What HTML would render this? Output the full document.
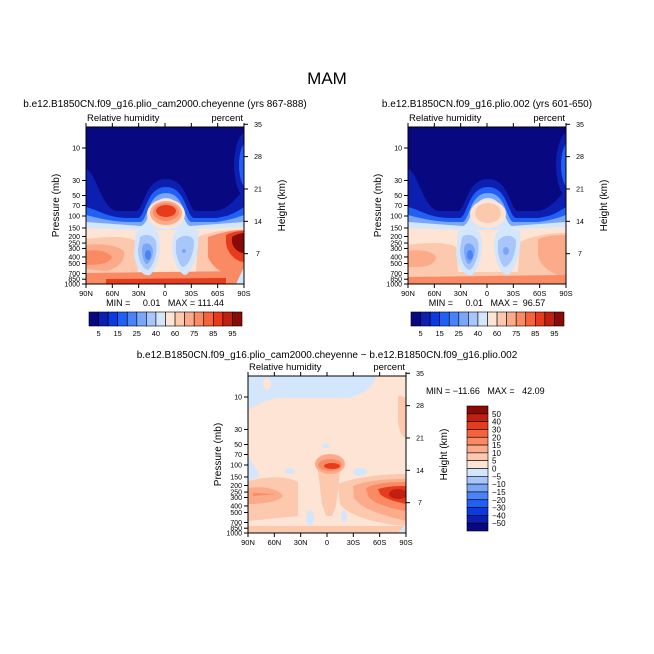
<!DOCTYPE html>
<html><head><meta charset="utf-8"><style>
body{margin:0;background:#fff;}
svg{display:block;font-family:"Liberation Sans",sans-serif;}
.pre{white-space:pre;}
</style></head><body>
<svg id="chart" width="654" height="654" viewBox="0 0 654 654">
<rect width="654" height="654" fill="#fff"/>
<text x="327" y="84" font-size="17" text-anchor="middle">MAM</text>
<text x="165" y="107" font-size="10" text-anchor="middle">b.e12.B1850CN.f09_g16.plio_cam2000.cheyenne (yrs 867-888)</text>
<text x="487" y="107" font-size="10" text-anchor="middle">b.e12.B1850CN.f09_g16.plio.002 (yrs 601-650)</text>
<text x="327" y="358" font-size="10" text-anchor="middle">b.e12.B1850CN.f09_g16.plio_cam2000.cheyenne − b.e12.B1850CN.f09_g16.plio.002</text>
<defs>
<clipPath id="pc"><rect x="0" y="0" width="158" height="157"/></clipPath>
</defs>

<!-- Panel 1 -->
<g transform="translate(86,127)">
<g clip-path="url(#pc)">
<rect width="158" height="157" fill="#080880"/>
<ellipse cx="162" cy="38" rx="14" ry="34" fill="#0c1fb0"/>
<ellipse cx="162" cy="38" rx="9" ry="24" fill="#2060f5"/>
<ellipse cx="162" cy="38" rx="4" ry="14" fill="#4a82f7"/>
<path d="M0,42 C10,45 15,80 30,84 L50,84 C58,84 58,52 80,52 C102,52 102,84 110,84 L128,84 C140,84 150,72 158,62 L158,157 L0,157Z" fill="#0c1fb0"/>
<path d="M0,80 C15,84 20,90 40,91 L52,91 C60,89 60,60 80,60 C100,60 100,89 108,91 L130,91 C145,89 150,85 158,80 L158,157 L0,157Z" fill="#2060f5"/>
<path d="M0,88 C15,92 30,95 45,95 L55,95 C62,92 62,66 80,66 C98,66 98,92 105,95 L130,95 C145,93 152,90 158,88 L158,157 L0,157Z" fill="#7aa6f8"/>
<path d="M0,95 L55,99 C64,96 64,71 80,71 C96,71 96,96 104,99 L158,95 L158,157 L0,157Z" fill="#d4e6fc"/>
<path d="M0,101 L50,103 C55,100 60,102 62,103 L98,103 C102,101 106,100 110,102 L158,100 L158,157 L0,157Z" fill="#fde4d4"/>
<path d="M0,112 C20,110 40,108 50,114 L52,145 L110,145 L112,110 C125,104 145,103 158,103 L158,157 L0,157Z" fill="#fcc8ae"/>
<path d="M0,118 C15,116 30,118 38,124 C40,135 30,142 20,144 L0,142Z" fill="#fbab8a"/>
<path d="M0,124 C10,122 22,124 26,130 C24,136 15,138 0,138Z" fill="#fa8a63"/>
<path d="M122,110 C140,104 150,103 158,103 L158,150 C145,150 128,145 122,130Z" fill="#fa8a63"/>
<path d="M140,108 C148,104 155,104 158,104 L158,135 C150,135 140,125 140,115Z" fill="#e63b1c"/>
<path d="M146,110 C152,106 158,106 158,106 L158,126 C152,126 146,120 146,114Z" fill="#8a0a05"/>
<path d="M0,146 L158,144 L158,157 L0,157Z" fill="#fa8a63"/>
<path d="M20,152 L140,151 L140,157 L20,157Z" fill="#e63b1c"/>
<path d="M150,157 L158,140 L158,157Z" fill="#d4e6fc"/>
<ellipse cx="80" cy="87" rx="19" ry="15" fill="#fde4d4"/>
<ellipse cx="80" cy="86" rx="16" ry="12" fill="#fbab8a"/>
<ellipse cx="80" cy="85" rx="13" ry="9" fill="#fa8a63"/>
<ellipse cx="80" cy="84" rx="10" ry="6" fill="#e63b1c"/>
<path d="M50,104 C56,100 66,100 72,106 C76,118 74,138 64,148 C56,150 50,140 48,128Z" fill="#d4e6fc"/>
<path d="M54,110 C60,106 67,108 70,114 C72,126 68,138 62,143 C56,142 52,132 52,122Z" fill="#a8c6fa"/>
<path d="M57,118 C62,114 66,118 67,124 C66,132 63,137 60,137 C57,134 56,126 56,122Z" fill="#7aa6f8"/>
<ellipse cx="62" cy="128" rx="3" ry="5" fill="#4a82f7"/>
<path d="M88,106 C94,100 106,100 112,104 C114,118 110,140 100,148 C92,148 86,130 86,118Z" fill="#d4e6fc"/>
<path d="M90,114 C96,106 106,108 108,114 C108,128 102,140 96,140 C91,134 89,124 90,118Z" fill="#a8c6fa"/>
<ellipse cx="98" cy="124" rx="2" ry="2" fill="#7aa6f8"/>
</g></g>

<!-- Panel 2 -->
<g transform="translate(408,127)">
<g clip-path="url(#pc)">
<rect width="158" height="157" fill="#080880"/>
<ellipse cx="162" cy="38" rx="14" ry="34" fill="#0c1fb0"/>
<ellipse cx="162" cy="38" rx="9" ry="24" fill="#2060f5"/>
<ellipse cx="162" cy="38" rx="4" ry="14" fill="#4a82f7"/>
<path d="M0,42 C10,45 15,80 30,84 L50,84 C58,84 58,52 80,52 C102,52 102,84 110,84 L128,84 C140,84 150,72 158,62 L158,157 L0,157Z" fill="#0c1fb0"/>
<path d="M0,80 C15,84 20,90 40,91 L52,91 C60,89 60,60 80,60 C100,60 100,89 108,91 L130,91 C145,89 150,85 158,80 L158,157 L0,157Z" fill="#2060f5"/>
<path d="M0,88 C15,92 30,95 45,95 L55,95 C62,92 62,66 80,66 C98,66 98,92 105,95 L130,95 C145,93 152,90 158,88 L158,157 L0,157Z" fill="#7aa6f8"/>
<path d="M0,95 L55,99 C64,96 64,71 80,71 C96,71 96,96 104,99 L158,95 L158,157 L0,157Z" fill="#d4e6fc"/>
<path d="M0,101 L50,103 C55,100 60,102 62,103 L98,103 C102,101 106,100 110,102 L158,100 L158,157 L0,157Z" fill="#fde4d4"/>
<path d="M0,118 C20,115 40,115 48,120 L50,145 L110,145 L112,115 C125,108 145,106 158,106 L158,157 L0,157Z" fill="#fcc8ae"/>
<path d="M0,124 C12,122 25,124 28,130 C28,136 20,140 10,140 L0,140Z" fill="#fbab8a"/>
<path d="M130,112 C140,108 150,108 158,108 L158,150 C145,148 132,140 130,128Z" fill="#fbab8a"/>
<path d="M0,150 L158,148 L158,157 L0,157Z" fill="#fa8a63"/>
<ellipse cx="80" cy="87" rx="18" ry="14" fill="#fde4d4"/>
<ellipse cx="80" cy="86" rx="13" ry="10" fill="#fcc8ae"/>
<path d="M50,104 C56,100 66,100 72,106 C76,118 74,138 64,148 C56,150 50,140 48,128Z" fill="#d4e6fc"/>
<path d="M54,110 C60,106 67,108 70,114 C72,126 68,138 62,143 C56,142 52,132 52,122Z" fill="#a8c6fa"/>
<path d="M57,118 C62,114 66,118 67,124 C66,132 63,137 60,137 C57,134 56,126 56,122Z" fill="#7aa6f8"/>
<ellipse cx="62" cy="128" rx="3" ry="5" fill="#4a82f7"/>
<path d="M88,106 C94,100 106,100 112,104 C114,118 110,140 100,148 C92,148 86,130 86,118Z" fill="#d4e6fc"/>
<path d="M90,114 C96,106 106,108 108,114 C108,128 102,140 96,140 C91,134 89,124 90,118Z" fill="#a8c6fa"/>
<ellipse cx="98" cy="124" rx="3" ry="4" fill="#7aa6f8"/>
</g></g>

<!-- Panel 3 (difference) -->
<g transform="translate(248,376)">
<g clip-path="url(#pc)">
<rect width="158" height="157" fill="#fde4d4"/>
<path d="M0,0 L128,0 C125,12 115,18 100,22 L30,22 C15,24 8,30 0,34Z" fill="#d4e6fc"/>
<ellipse cx="19" cy="8" rx="4" ry="6" fill="#fde4d4"/>
<path d="M0,80 L12,100 L0,105Z" fill="#d4e6fc"/>
<path d="M150,20 C155,20 158,22 158,22 L158,62 C152,60 150,50 150,40Z" fill="#fcc8ae"/>
<path d="M0,105 C20,100 40,100 50,106 L50,140 L0,145Z" fill="#fcc8ae"/>
<path d="M0,112 C15,110 30,112 35,120 C30,126 15,128 0,128Z" fill="#fbab8a"/>
<path d="M5,117 L28,118 L5,120Z" fill="#fa8a63"/>
<path d="M90,108 C110,100 140,98 158,98 L158,150 C130,148 100,140 92,128Z" fill="#fcc8ae"/>
<path d="M105,110 C120,104 140,103 158,103 L158,145 C140,140 115,135 106,122Z" fill="#fbab8a"/>
<path d="M118,112 C130,106 148,106 158,106 L158,135 C145,133 125,128 120,120Z" fill="#fa8a63"/>
<path d="M130,113 C140,110 152,110 158,110 L158,128 C148,126 135,122 132,118Z" fill="#e63b1c"/>
<ellipse cx="150" cy="118" rx="9" ry="5" fill="#c0200f"/>
<path d="M70,95 C72,82 88,82 92,95 L88,130 L84,140 L78,140 L74,128Z" fill="#fcc8ae"/>
<ellipse cx="82" cy="88" rx="15" ry="10" fill="#fbab8a"/>
<ellipse cx="82" cy="89" rx="12" ry="6" fill="#fa8a63"/>
<ellipse cx="84" cy="90" rx="8" ry="3" fill="#e63b1c"/>
<ellipse cx="42" cy="95" rx="5" ry="3" fill="#d4e6fc"/>
<ellipse cx="112" cy="96" rx="7" ry="4" fill="#d4e6fc"/>
<ellipse cx="78" cy="70" rx="4" ry="2" fill="#d4e6fc"/>
<ellipse cx="62" cy="142" rx="4" ry="8" fill="#d4e6fc"/>
<ellipse cx="96" cy="140" rx="3" ry="6" fill="#d4e6fc"/>
<path d="M0,150 L158,150 L158,157 L0,157Z" fill="#fcc8ae"/>
<path d="M150,157 L158,148 L158,157Z" fill="#d4e6fc"/>
</g></g>

<g id="axes"></g>
</svg>
<script>
const latLabels = ["90N","60N","30N","0","30S","60S","90S"];
const presLevels = [10,30,50,70,100,150,200,250,300,400,500,700,850,1000];
const heightKm = [7,14,21,28,35];
const cbLevelsTop = ["5","15","25","40","60","75","85","95"];
const cbLevelsDiff = ["50","40","30","20","15","10","5","0","−5","−10","−15","−20","−30","−40","−50"];
const cbColors = ["#080880","#0c1fb0","#0a3ae0","#2060f5","#4a82f7","#7aa6f8","#a8c6fa","#d4e6fc","#fde4d4","#fcc8ae","#fbab8a","#fa8a63","#f5623c","#e63b1c","#c0200f","#8a0a05"];
const statsText = ["MIN =     0.01   MAX = 111.44","MIN =     0.01   MAX =  96.57"];

const NS="http://www.w3.org/2000/svg";
const ax=document.getElementById('axes');
function el(tag,attrs,txt){const e=document.createElementNS(NS,tag);for(const k in attrs)e.setAttribute(k,attrs[k]);if(txt!==undefined)e.textContent=txt;ax.appendChild(e);return e;}
const W=158,H=157;
function yP(p){return H-(3-Math.log10(p))*68;}
function yKm(k){return 159-k*4.62;}
function drawAxes(x0,y0,tag){
  let r=el('rect',{x:x0,y:y0,width:W,height:H,fill:'none',stroke:'#000','stroke-width':1});
  
  
  latLabels.forEach((l,i)=>{const x=x0+i*W/6;
    el('line',{x1:x,y1:y0+H,x2:x,y2:y0+H+4,stroke:'#000'});
    el('line',{x1:x,y1:y0,x2:x,y2:y0-4,stroke:'#000'});
    const t=el('text',{x:x,y:y0+H+12,'font-size':7.5,'text-anchor':'middle'},l);
    
    
  });
  presLevels.forEach(p=>{const y=y0+yP(p);
    el('line',{x1:x0,y1:y,x2:x0-4,y2:y,stroke:'#000'});
    const t=el('text',{x:x0-6,y:y+2.5,'font-size':7,'text-anchor':'end'},String(p));
    
    
  });
  heightKm.forEach(k=>{const y=y0+yKm(k);
    el('line',{x1:x0+W,y1:y,x2:x0+W+4,y2:y,stroke:'#000'});
    const t=el('text',{x:x0+W+14,y:y+2.5,'font-size':7,'text-anchor':'middle'},String(k));
    
    
  });
  let a=el('text',{x:x0+1,y:y0-6,'font-size':9.5},'Relative humidity');
  
  
  let b=el('text',{x:x0+W-1,y:y0-6,'font-size':9.5,'text-anchor':'end'},'percent');
  
  
  let c=el('text',{x:x0-27,y:y0+H/2,'font-size':10,'text-anchor':'middle',transform:`rotate(-90 ${x0-27} ${y0+H/2})`},'Pressure (mb)');
  
  
  let d=el('text',{x:x0+W+41,y:y0+H/2,'font-size':10,'text-anchor':'middle',transform:`rotate(-90 ${x0+W+41} ${y0+H/2})`},'Height (km)');
  
  
}
drawAxes(86,127,'left');
drawAxes(408,127,'right');
drawAxes(248,376,'diff');
[[86,0],[408,1]].forEach(([x0,i])=>{
  const t=el('text',{x:x0+W/2,y:306,'font-size':9,'text-anchor':'middle','class':'pre'},statsText[i]);
  
  
});
let st=el('text',{x:426,y:394,'font-size':9,'class':'pre'},'MIN = −11.66   MAX =   42.09');


[89,411].forEach(cx=>{
  const bw=153/cbColors.length;
  cbColors.forEach((c,i)=>{
    const r=el('rect',{x:cx+i*bw,y:312,width:bw,height:14,fill:c,stroke:'#000','stroke-width':0.6});
    
    
  });
  cbLevelsTop.forEach((l,i)=>{
    const t=el('text',{x:cx+(i*2+1)*bw,y:336,'font-size':7.5,'text-anchor':'middle'},l);
    
    
  });
});
{
  const bh=125/cbColors.length, x=467;
  cbColors.slice().reverse().forEach((c,i)=>{
    const r=el('rect',{x:x,y:406+i*bh,width:21,height:bh,fill:c,stroke:'#000','stroke-width':0.6});
    
    
  });
  cbLevelsDiff.forEach((l,i)=>{
    const t=el('text',{x:492,y:406+(i+1)*bh+3,'font-size':8},l);
    
    
  });
}
</script>
</body></html>
